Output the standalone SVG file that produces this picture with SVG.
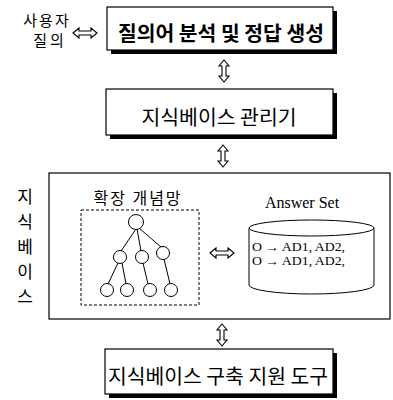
<svg xmlns="http://www.w3.org/2000/svg" width="393" height="400" viewBox="0 0 393 400">
  <style>
    .box { fill: #fff; stroke: #000; stroke-width: 1.2; }
    .shadow { fill: #000; }
    .kr { font-family: "Noto Sans CJK KR", "Noto Sans", sans-serif; fill: #000; }
    .big { font-size: 20px; text-anchor: middle; dominant-baseline: central; }
    .side { font-size: 15px; text-anchor: middle; dominant-baseline: central; }
    .vert { font-size: 17px; text-anchor: middle; dominant-baseline: central; }
    .serif { font-family: "Liberation Serif", "Times New Roman", serif; fill: #000; }
    .arrow { fill: #fff; stroke: #000; stroke-width: 1.1; stroke-linejoin: miter; }
    .edge { stroke: #000; stroke-width: 1; fill: none; }
    .node { fill: #fff; stroke: #000; stroke-width: 1; }
    .dash { fill: none; stroke: #000; stroke-width: 1; stroke-dasharray: 3 2; }
  </style>
  <defs>
    <path id="dv" d="M0,-11 L5,-5 L2,-5 L2,5 L5,5 L0,11 L-5,5 L-2,5 L-2,-5 L-5,-5 Z"/>
    <path id="dh" d="M-12,0 L-6,-5 L-6,-2 L6,-2 L6,-5 L12,0 L6,5 L6,2 L-6,2 L-6,5 Z"/>
  </defs>

  <g id="user-query">
    <text class="kr side" x="47" y="19" letter-spacing="2">사용자</text>
    <text class="kr side" x="50" y="39" letter-spacing="3">질의</text>
  </g>

  <g id="query-analysis">
    <rect class="shadow" x="111" y="11" width="226" height="43"/>
    <rect class="box" x="107" y="7" width="226" height="43"/>
    <text class="kr big" x="221" y="32" font-weight="700" textLength="206" lengthAdjust="spacingAndGlyphs">질의어 분석 및 정답 생성</text>
  </g>

  <g id="kb-manager">
    <rect class="shadow" x="110" y="93" width="227" height="46"/>
    <rect class="box" x="106" y="89" width="227" height="46"/>
    <text class="kr big" x="219" y="116" font-size="19" textLength="155" lengthAdjust="spacingAndGlyphs">지식베이스 관리기</text>
  </g>

  <g id="knowledge-base">
    <rect class="box" x="49" y="173" width="341" height="146" stroke-width="1"/>
    <g class="kr vert">
      <text x="25" y="195">지</text>
      <text x="25" y="220">식</text>
      <text x="25" y="245">베</text>
      <text x="25" y="270">이</text>
      <text x="25" y="295">스</text>
    </g>
  </g>

  <g id="concept-network">
    <text class="kr" x="138" y="197" font-size="16" text-anchor="middle" dominant-baseline="central" letter-spacing="2">확장 개념망</text>
    <rect class="dash" x="81" y="210" width="118" height="95"/>
    <g class="edges">
      <line class="edge" x1="136" y1="229" x2="121" y2="251"/>
      <line class="edge" x1="137" y1="229" x2="141" y2="251"/>
      <line class="edge" x1="139" y1="228" x2="161" y2="247"/>
      <line class="edge" x1="118" y1="263" x2="108" y2="284"/>
      <line class="edge" x1="122" y1="263" x2="126" y2="284"/>
      <line class="edge" x1="143" y1="263" x2="148" y2="284"/>
      <line class="edge" x1="164" y1="259" x2="170" y2="284"/>
    </g>
    <circle class="node" cx="136" cy="222" r="7.5"/>
    <circle class="node" cx="120" cy="257" r="6.5"/>
    <circle class="node" cx="142" cy="257" r="6.5"/>
    <circle class="node" cx="163" cy="253" r="6.5"/>
    <circle class="node" cx="107" cy="290" r="6.5"/>
    <circle class="node" cx="127" cy="290" r="6.5"/>
    <circle class="node" cx="150" cy="290" r="6.5"/>
    <circle class="node" cx="171" cy="290" r="6.5"/>
  </g>

  <g id="answer-set">
    <text class="serif" x="302" y="208" font-size="16" text-anchor="middle">Answer Set</text>
    <path class="node" d="M249,228 L249,285 A62.5,9 0 0 0 374,285 L374,228"/>
    <ellipse class="node" cx="311.5" cy="228" rx="62.5" ry="8"/>
    <text class="serif" x="252" y="251" font-size="12" textLength="93" lengthAdjust="spacingAndGlyphs">O → AD1, AD2,</text>
    <text class="serif" x="252" y="265" font-size="12" textLength="93" lengthAdjust="spacingAndGlyphs">O → AD1, AD2,</text>
  </g>

  <g id="kb-build-tool">
    <rect class="shadow" x="109" y="353" width="228" height="45"/>
    <rect class="box" x="105" y="349" width="228" height="45"/>
    <text class="kr big" x="218" y="375" font-size="19" textLength="220" lengthAdjust="spacingAndGlyphs">지식베이스 구축 지원 도구</text>
  </g>

  <g id="connectors">
    <use href="#dh" class="arrow" transform="translate(85,33)"/>
    <use href="#dv" class="arrow" transform="translate(224,71)"/>
    <use href="#dv" class="arrow" transform="translate(223,156)"/>
    <use href="#dh" class="arrow" transform="translate(222,253)"/>
    <use href="#dv" class="arrow" transform="translate(222,335)"/>
  </g>
</svg>
